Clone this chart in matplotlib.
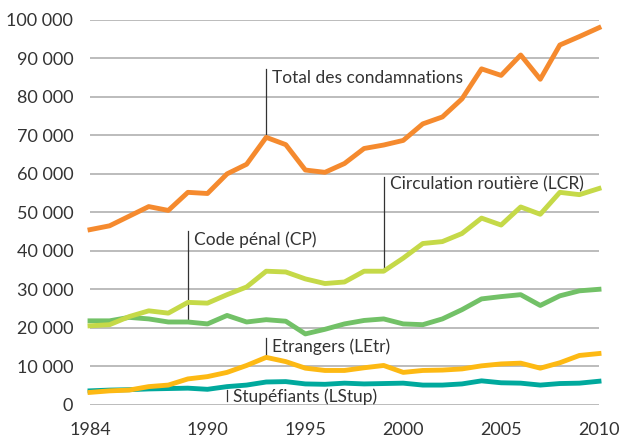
import matplotlib
matplotlib.use("Agg")
from matplotlib import pyplot as plt
from matplotlib.ticker import FuncFormatter

# years 1984 - 2010
years = list(range(1984, 2011))

total = [45500, 46500, 49000, 51500, 50500, 55200, 54900, 60000, 62500, 69500,
         67600, 61000, 60400, 62700, 66600, 67500, 68700, 73000, 74800, 79500,
         87300, 85600, 90900, 84600, 93500, 95700, 98000]
lcr = [20500, 20800, 22900, 24400, 23800, 26600, 26400, 28600, 30600, 34700,
       34500, 32700, 31500, 31900, 34700, 34700, 38100, 41900, 42400, 44500,
       48500, 46700, 51400, 49500, 55200, 54600, 56200]
cp = [21800, 21800, 22700, 22300, 21500, 21500, 21000, 23200, 21500, 22100,
      21700, 18400, 19600, 21000, 21900, 22300, 21000, 20800, 22300, 24700,
      27500, 28100, 28600, 25800, 28300, 29600, 30000]
letr = [3200, 3600, 3800, 4700, 5100, 6700, 7300, 8400, 10200, 12300,
        11200, 9500, 8900, 8900, 9600, 10200, 8400, 8900, 9000, 9300,
        10100, 10600, 10800, 9500, 10900, 12800, 13300]
lstup = [3600, 3800, 3900, 4100, 4200, 4300, 4000, 4700, 5100, 5900,
         6000, 5400, 5300, 5600, 5400, 5500, 5600, 5100, 5100, 5400,
         6200, 5700, 5600, 5100, 5500, 5600, 6100]

plt.rcParams['font.family'] = ['Lato', 'DejaVu Sans']

fig = plt.figure(figsize=(6.2, 4.37), dpi=100)
ax = fig.add_axes([90 / 620, (437 - 404.7) / 437, 509 / 620, 384.7 / 437])

for y in range(0, 100001, 10000):
    ax.axhline(y, color="#a9a9a9", lw=1.1, zorder=0)

lw = 3.5
ax.plot(years, lstup, color="#00a99d", lw=lw, clip_on=False)
ax.plot(years, letr, color="#fdb913", lw=lw, clip_on=False)
ax.plot(years, cp, color="#72c167", lw=lw, clip_on=False)
ax.plot(years, lcr, color="#c5d948", lw=lw, clip_on=False)
ax.plot(years, total, color="#f58a2e", lw=lw, clip_on=False)

# labels with leader lines: text, year, line bottom, line top, text y
notes = [
    ("Total des condamnations", 1993, total[9], 87300, 85000),
    ("Circulation routière (LCR)", 1999, lcr[15], 59300, 57400),
    ("Code pénal (CP)", 1989, cp[5], 45200, 42800),
    ("Etrangers (LEtr)", 1993, letr[9], 17400, 15200),
    ("Stupéfiants (LStup)", 1991, 1000, 3900, 2200),
]
for text, yr, lo, hi, ty in notes:
    ax.plot([yr, yr], [lo, hi], color="#333333", lw=0.9, zorder=1)
    ax.text(yr + 0.3, ty, text, fontsize=12.5, color="#333333", va="center", ha="left")

ax.set_xlim(1984, 2010)
ax.set_ylim(0, 100000)
ax.set_xticks([1984, 1990, 1995, 2000, 2005, 2010])
ax.set_yticks(range(0, 100001, 10000))
ax.yaxis.set_major_formatter(FuncFormatter(lambda v, p: "{:,}".format(int(v)).replace(",", " ")))
ax.tick_params(length=0, labelsize=13, labelcolor="#333333")
ax.tick_params(axis="y", pad=12)
ax.tick_params(axis="x", pad=12.5)
for s in ax.spines.values():
    s.set_visible(False)

fig.savefig("out.png", dpi=100)
